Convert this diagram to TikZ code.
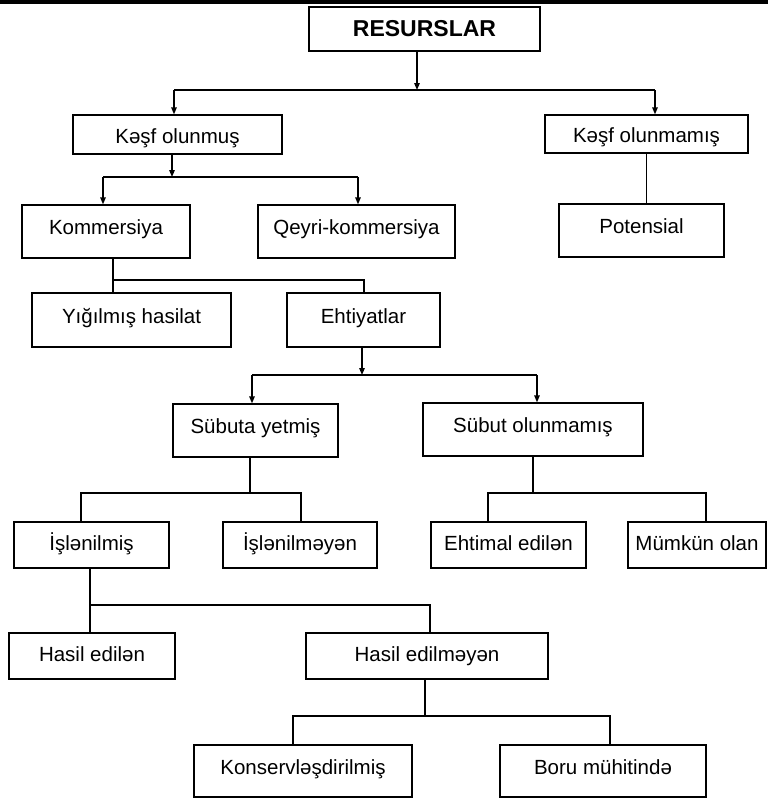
\documentclass[tikz,border=0pt]{standalone}
\usepackage{fontspec}
\setmainfont{Liberation Sans}
\usepackage{tikz}
\usetikzlibrary{arrows.meta}

\begin{document}
\begin{tikzpicture}[x=1pt,y=-1pt,line width=1.3pt,
    >={Triangle[length=7pt,width=5.5pt]},
    box/.style={draw,inner sep=0pt,text height=14pt,text depth=8pt,
      font=\fontsize{20.5}{24}\selectfont},
    mid/.style={box,text height=15pt,text depth=3.5pt},
    flat/.style={box,text height=17pt,text depth=0pt},
    top/.style={box,text height=16pt,text depth=2pt,
      font=\fontsize{23}{27}\selectfont\bfseries}]
        \useasboundingbox (0,0) rectangle (768,801);
        % rule along the top edge of the page
        \draw[line width=4pt] (0,2) -- (768,2);
        % boxes: centre, then width/height in px
        \node[top,minimum width=231pt,minimum height=44pt] (res) at (424.5,29) {RESURSLAR};
        \node[flat,minimum width=209pt,minimum height=39pt] (kof) at (177.5,134.5) {Kəşf olunmuş};
        \node[flat,minimum width=203pt,minimum height=38pt] (kon) at (646.5,134) {Kəşf olunmamış};
        \node[box,minimum width=168pt,minimum height=53pt] (kom) at (106,231.5) {Kommersiya};
        \node[box,minimum width=197pt,minimum height=53pt] (qey) at (356.5,231.5) {Qeyri-kommersiya};
        \node[box,minimum width=165pt,minimum height=53pt] (pot) at (641.5,230.5) {Potensial};
        \node[box,minimum width=199pt,minimum height=54pt] (yig) at (131.5,320) {Yığılmış hasilat};
        \node[box,minimum width=153pt,minimum height=54pt] (eht) at (363.5,320) {Ehtiyatlar};
        \node[box,minimum width=165pt,minimum height=53pt] (sy) at (255.5,430.5) {Sübuta yetmiş};
        \node[box,minimum width=220pt,minimum height=53pt] (so) at (533,429.5) {Sübut olunmamış};
        \node[mid,minimum width=155pt,minimum height=46pt] (isl) at (91.5,545) {İşlənilmiş};
        \node[mid,minimum width=154pt,minimum height=46pt] (isn) at (300,545) {İşlənilməyən};
        \node[mid,minimum width=155pt,minimum height=46pt] (ehe) at (508.5,545) {Ehtimal edilən};
        \node[mid,minimum width=138pt,minimum height=46pt] (mum) at (697,545) {Mümkün olan};
        \node[mid,minimum width=166pt,minimum height=46pt] (he) at (92,656) {Hasil edilən};
        \node[mid,minimum width=242pt,minimum height=46pt] (hem) at (427,656) {Hasil edilməyən};
        \node[box,minimum width=218pt,minimum height=52pt] (kons) at (303,771) {Konservləşdirilmiş};
        \node[box,minimum width=206pt,minimum height=52pt] (boru) at (603,771) {Boru mühitində};
        % bus lines
        \coordinate (b1) at (417,90);  \coordinate (b1l) at (174,90);  \coordinate (b1r) at (655,90);
        \coordinate (b2) at (172,177); \coordinate (b2l) at (103,177); \coordinate (b2r) at (358,177);
        \coordinate (b3l) at (113,280); \coordinate (b3r) at (364,280);
        \coordinate (b4) at (362,375); \coordinate (b4l) at (252,375); \coordinate (b4r) at (537,375);
        \coordinate (b5) at (250,493); \coordinate (b5l) at (81,493);  \coordinate (b5r) at (301,493);
        \coordinate (b6l) at (488,493); \coordinate (b6r) at (706,493);
        \coordinate (b7l) at (90,605);  \coordinate (b7r) at (430,605);
        \coordinate (b8) at (425,716); \coordinate (b8l) at (293,716); \coordinate (b8r) at (610,716);
        % resurslar
        \draw[->] (res.south -| b1) -- (b1);
        \draw (b1l) -- (b1r);
        \draw[->] (b1l) -- (b1l |- kof.north);
        \draw[->] (b1r) -- (b1r |- kon.north);
        % kesf olunmus / olunmamis
        \draw[->] (kof.south -| b2) -- (b2);
        \draw (b2l) -- (b2r);
        \draw[->] (b2l) -- (b2l |- kom.north);
        \draw[->] (b2r) -- (b2r |- qey.north);
        \draw (kon.south) -- (kon.south |- pot.north);
        % kommersiya
        \draw (kom.south -| b3l) -- (b3l) -- (b3r) -- (b3r |- eht.north);
        \draw (b3l) -- (b3l |- yig.north);
        % ehtiyatlar
        \draw[->] (eht.south -| b4) -- (b4);
        \draw (b4l) -- (b4r);
        \draw[->] (b4l) -- (b4l |- sy.north);
        \draw[->] (b4r) -- (b4r |- so.north);
        % subuta yetmis / subut olunmamis
        \draw (sy.south -| b5) -- (b5);
        \draw (b5l |- isl.north) -- (b5l) -- (b5r) -- (b5r |- isn.north);
        \draw (so.south) -- (so.south |- b6l);
        \draw (b6l |- ehe.north) -- (b6l) -- (b6r) -- (b6r |- mum.north);
        % islenilmis
        \draw (isl.south -| b7l) -- (b7l) -- (b7r) -- (b7r |- hem.north);
        \draw (b7l) -- (b7l |- he.north);
        % hasil edilmeyen
        \draw (hem.south -| b8) -- (b8);
        \draw (b8l |- kons.north) -- (b8l) -- (b8r) -- (b8r |- boru.north);
      \end{tikzpicture}
\end{document}
